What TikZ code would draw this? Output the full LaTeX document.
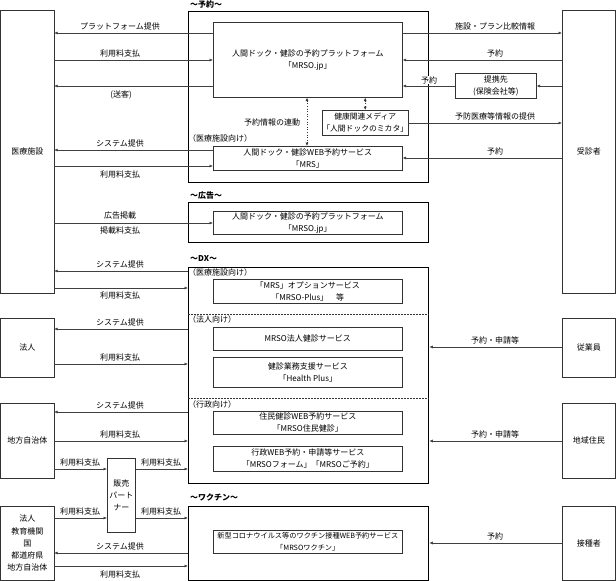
\documentclass[tikz,border=0pt]{standalone}
\usepackage{fontspec}
\setmainfont{Noto Sans CJK JP}
\usetikzlibrary{arrows.meta}
\newcommand{\pane}[7]{\node[#6, minimum width=#4pt, minimum height=#5pt] (#1) at (#2,#3) {#7};}
\tikzset{
  ent/.style={draw=black!80, line width=0.6pt, anchor=north west, inner sep=0pt, align=center, font=\fontsize{8}{12.3}\selectfont},
  grp/.style={draw=black, line width=1.3pt, anchor=north west, inner sep=0pt},
  flow/.style={draw=black!75, line width=0.6pt, -{Latex[length=3.5pt,width=3pt]}},
  sync/.style={draw=black!80, line width=0.6pt, dotted, {Latex[length=3.5pt,width=3pt]}-{Latex[length=3.5pt,width=3pt]}},
  sep/.style={draw=black!80, line width=0.6pt, dash pattern=on 1.5pt off 1.5pt},
  lbl/.style={inner sep=0pt, font=\fontsize{8}{9}\selectfont},
  ttl/.style={anchor=west, inner sep=0pt, font=\bfseries\fontsize{8}{9}\selectfont},
  sub/.style={anchor=west, inner sep=0pt, font=\fontsize{8}{9}\selectfont}
}
\begin{document}
\begin{tikzpicture}[x=1pt, y=-1pt]
        \useasboundingbox (0,0) rectangle (616,581);
        % left side
        \pane{iryo}{0.5}{10}{53}{283}{ent}{医療施設}
        \pane{hojin}{0.5}{318}{53}{59}{ent}{法人}
        \pane{jichi}{0.5}{403}{53}{75}{ent}{地方自治体}
        \pane{multi}{0.5}{506}{53}{74}{ent}{法人\\教育機関\\国\\都道府県\\地方自治体}
        \pane{hanbai}{107}{458}{28}{74}{ent}{販売\\パート\\ナー}
        % right side
        \pane{jushin}{562}{10}{53}{283}{ent}{受診者}
        \pane{jugyo}{562}{318}{53}{59}{ent}{従業員}
        \pane{chiiki}{562}{403}{53}{75}{ent}{地域住民}
        \pane{sesshu}{562}{506}{53}{74}{ent}{接種者}
        \pane{teikei}{455}{73}{81}{25}{ent}{提携先\\(保険会社等)}
        % yoyaku
        \node[ttl] (tyoyaku) at (190,4) {～予約～};
        \pane{yoyaku}{188}{10.7}{240}{171}{grp}{}
        \pane{plat}{213}{22}{189}{75}{ent}{人間ドック・健診の予約プラットフォーム\\「MRSO.jp」}
        \pane{media}{322}{110}{80}{25}{ent, font=\fontsize{7.8}{12.3}\selectfont}{健康関連メディア\\「人間ドックのミカタ」}
        \pane{mrs}{213}{146}{189}{24}{ent}{人間ドック・健診WEB予約サービス\\「MRS」}
        \node[sub] (smrs) at (188,138) {（医療施設向け）};
        \draw[sync] (plat.south -| 307,0) -- (mrs.north -| 307,0);
        \draw[sync] (media.north |- plat.south) -- (media.north);
        \node[lbl] (lsync) at (272,122) {予約情報の連動};
        % koukoku
        \node[ttl] (tad) at (190,195) {～広告～};
        \pane{koukoku}{188}{202}{240}{40}{grp}{}
        \pane{ad}{213}{211}{189}{23}{ent}{人間ドック・健診の予約プラットフォーム\\「MRSO.jp」}
        % dx
        \node[ttl] (tdx) at (190,259) {～DX～};
        \pane{dx}{188}{267}{240}{216}{grp}{}
        \node[sub] (s1) at (188,272) {（医療施設向け）};
        \pane{opt}{213}{279}{189}{24}{ent}{「MRS」オプションサービス\\「MRSO-Plus」　等}
        \draw[sep] (dx.west |- 0,314) -- (dx.east |- 0,314);
        \node[sub] (s2) at (188,319) {（法人向け）};
        \pane{hjk}{213}{327}{189}{23}{ent}{MRSO法人健診サービス}
        \pane{hplus}{213}{357}{189}{30}{ent}{健診業務支援サービス\\「Health Plus」}
        \draw[sep] (dx.west |- 0,398) -- (dx.east |- 0,398);
        \node[sub] (s3) at (188,404) {（行政向け）};
        \pane{jumin}{213}{411}{189}{23}{ent}{住民健診WEB予約サービス\\「MRSO住民健診」}
        \pane{gyosei}{213}{446}{189}{25}{ent}{行政WEB予約・申請等サービス\\「MRSOフォーム」「MRSOご予約」}
        % vaccine
        \node[ttl] (tvac) at (190,497) {～ワクチン～};
        \pane{vac}{188}{506}{240}{74}{grp}{}
        \pane{vacsvc}{213}{530}{189}{23}{ent, font=\fontsize{7.2}{12.3}\selectfont}{新型コロナウイルス等のワクチン接種WEB予約サービス\\「MRSOワクチン」}
        % left flows
        \draw[flow] (plat.west |- 0,33) -- (iryo.east |- 0,33);
        \node[lbl] (l1) at (120,26) {プラットフォーム提供};
        \draw[flow] (iryo.east |- 0,60) -- (plat.west |- 0,60);
        \node[lbl] (l2) at (120,53) {利用料支払};
        \draw[flow] (plat.west |- 0,86) -- (iryo.east |- 0,86);
        \node[lbl] (l3) at (121,95) {(送客)};
        \draw[flow] (mrs.west |- 0,150) -- (iryo.east |- 0,150);
        \node[lbl] (l4) at (120,143) {システム提供};
        \draw[flow] (iryo.east |- 0,166) -- (mrs.west |- 0,166);
        \node[lbl] (l5) at (120,174) {利用料支払};
        \draw[flow] (iryo.east |- 0,223) -- (ad.west |- 0,223);
        \node[lbl] (l6) at (120,215) {広告掲載};
        \node[lbl] (l7) at (120,230) {掲載料支払};
        \draw[flow] (dx.west |- 0,271) -- (iryo.east |- 0,271);
        \node[lbl] (l8) at (120,264) {システム提供};
        \draw[flow] (iryo.east |- 0,288) -- (dx.west |- 0,288);
        \node[lbl] (l9) at (120,295) {利用料支払};
        \draw[flow] (dx.west |- 0,329) -- (hojin.east |- 0,329);
        \node[lbl] (l10) at (120,322) {システム提供};
        \draw[flow] (hojin.east |- 0,364) -- (dx.west |- 0,364);
        \node[lbl] (l11) at (120,357) {利用料支払};
        \draw[flow] (dx.west |- 0,412) -- (jichi.east |- 0,412);
        \node[lbl] (l12) at (120,405) {システム提供};
        \draw[flow] (jichi.east |- 0,441) -- (dx.west |- 0,441);
        \node[lbl] (l13) at (120,434) {利用料支払};
        \draw[flow] (jichi.east |- 0,469) -- (hanbai.west |- 0,469);
        \node[lbl] (l14) at (80,462) {利用料支払};
        \draw[flow] (hanbai.east |- 0,469) -- (dx.west |- 0,469);
        \node[lbl] (l15) at (161,462) {利用料支払};
        \draw[flow] (multi.east |- 0,518) -- (hanbai.west |- 0,518);
        \node[lbl] (l16) at (80,511) {利用料支払};
        \draw[flow] (hanbai.east |- 0,518) -- (vac.west |- 0,518);
        \node[lbl] (l17) at (161,511) {利用料支払};
        \draw[flow] (vac.west |- 0,553) -- (multi.east |- 0,553);
        \node[lbl] (l18) at (120,546) {システム提供};
        \draw[flow] (multi.east |- 0,566) -- (vac.west |- 0,566);
        \node[lbl] (l19) at (120,574) {利用料支払};
        % right flows
        \draw[flow] (plat.east |- 0,33) -- (jushin.west |- 0,33);
        \node[lbl] (r1) at (495,26) {施設・プラン比較情報};
        \draw[flow] (jushin.west |- 0,60) -- (plat.east |- 0,60);
        \node[lbl] (r2) at (495,53) {予約};
        \draw[flow] (jushin.west |- 0,86) -- (teikei.east |- 0,86);
        \draw[flow] (teikei.west |- 0,86) -- (plat.east |- 0,86);
        \node[lbl, fill=white] (r3) at (429,80) {予約};
        \draw[flow] (media.east |- 0,123) -- (jushin.west |- 0,123);
        \node[lbl] (r4) at (495,116) {予防医療等情報の提供};
        \draw[flow] (jushin.west |- 0,158) -- (mrs.east |- 0,158);
        \node[lbl] (r5) at (495,151) {予約};
        \draw[flow] (jugyo.west |- 0,347) -- (dx.east |- 0,347);
        \node[lbl] (r6) at (495,340) {予約・申請等};
        \draw[flow] (chiiki.west |- 0,441) -- (dx.east |- 0,441);
        \node[lbl] (r7) at (495,434) {予約・申請等};
        \draw[flow] (sesshu.west |- 0,543) -- (vac.east |- 0,543);
        \node[lbl] (r8) at (495,536) {予約};
    \end{tikzpicture}
\end{document}
